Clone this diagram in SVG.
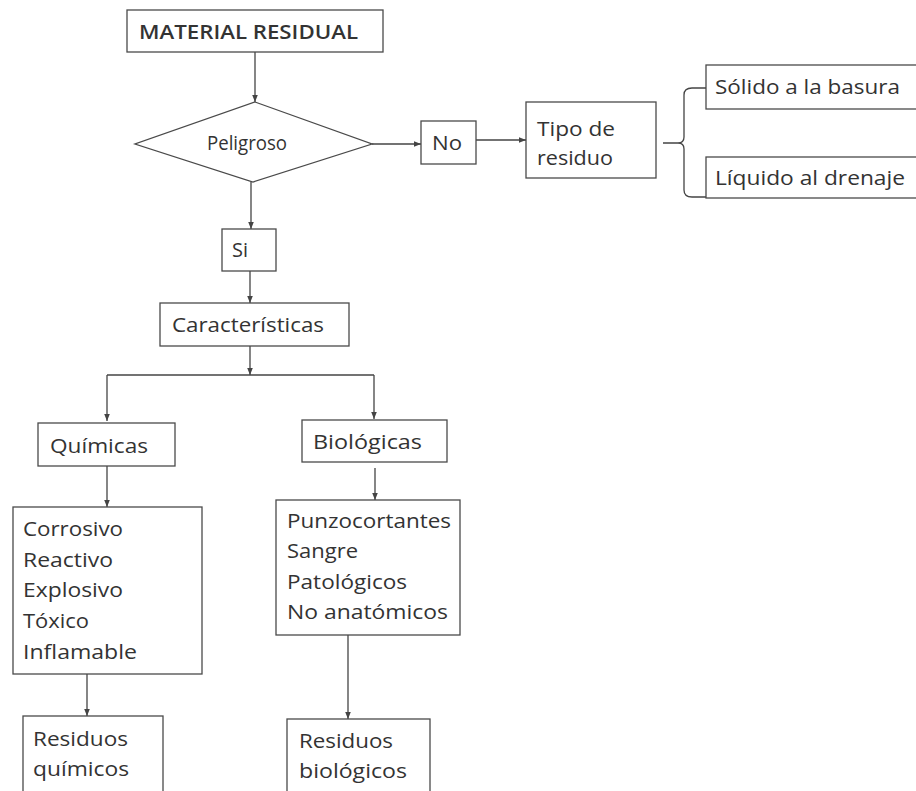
<svg xmlns="http://www.w3.org/2000/svg" width="916" height="791" viewBox="0 0 916 791">
<style>
.box{fill:#fff;stroke:#4a4a4a;stroke-width:1.3}
.t{font-family:"Open Sans","Noto Sans","Liberation Sans",sans-serif;font-size:20px;fill:#333}
.c{fill:none;stroke:#444;stroke-width:1.3}
</style>
<defs>
<marker id="ah" viewBox="0 0 8 8" refX="8" refY="4" markerWidth="7" markerHeight="7" markerUnits="userSpaceOnUse" orient="auto">
<path d="M0,0.8 L8,4 L0,7.2 Z" fill="#444"/>
</marker>
</defs>
<rect width="916" height="791" fill="#fff"/>
<g id="connectors">
<path class="c" d="M255,52 V102" marker-end="url(#ah)"/>
<path class="c" d="M372,144 H421" marker-end="url(#ah)"/>
<path class="c" d="M476,140 H526" marker-end="url(#ah)"/>
<path class="c" d="M251,182 V229" marker-end="url(#ah)"/>
<path class="c" d="M250,271 V303" marker-end="url(#ah)"/>
<path class="c" d="M250,346 V375" marker-end="url(#ah)"/>
<path class="c" d="M107,375 H374"/>
<path class="c" d="M107,375 V421" marker-end="url(#ah)"/>
<path class="c" d="M374,375 V419" marker-end="url(#ah)"/>
<path class="c" d="M107,466 V507" marker-end="url(#ah)"/>
<path class="c" d="M375,468 V500" marker-end="url(#ah)"/>
<path class="c" d="M87,674 V716" marker-end="url(#ah)"/>
<path class="c" d="M348,635 V719" marker-end="url(#ah)"/>
<path class="c" d="M663,143 L678,143 Q684,143 684,137 L684,95 Q684,88 692,88 L706,88 M678,143 Q684,143 684,149 L684,190 Q684,197 692,197 L706,197"/>
</g>
<g id="material-residual">
<rect class="box" x="127" y="10" width="256" height="42"/>
<text class="t" x="139" y="39" font-size="19" font-weight="600" textLength="219" lengthAdjust="spacingAndGlyphs">MATERIAL RESIDUAL</text>
</g>
<g id="peligroso">
<polygon class="box" points="255,102 372,144 253,182 135,144"/>
<text class="t" x="207" y="150" textLength="80" lengthAdjust="spacingAndGlyphs">Peligroso</text>
</g>
<g id="no">
<rect class="box" x="421" y="121" width="55" height="43"/>
<text class="t" x="432" y="150" textLength="30" lengthAdjust="spacingAndGlyphs">No</text>
</g>
<g id="tipo-residuo">
<rect class="box" x="526" y="102" width="130" height="76"/>
<text class="t" x="537" y="136" textLength="78" lengthAdjust="spacingAndGlyphs">Tipo de</text>
<text class="t" x="537" y="165" textLength="76" lengthAdjust="spacingAndGlyphs">residuo</text>
</g>
<g id="solido">
<rect class="box" x="706" y="65" width="220" height="44"/>
<text class="t" x="715" y="94" textLength="185" lengthAdjust="spacingAndGlyphs">Sólido a la basura</text>
</g>
<g id="liquido">
<rect class="box" x="706" y="157" width="220" height="41"/>
<text class="t" x="715" y="185" textLength="190" lengthAdjust="spacingAndGlyphs">Líquido al drenaje</text>
</g>
<g id="si">
<rect class="box" x="222" y="229" width="54" height="42"/>
<text class="t" x="232" y="257" textLength="16" lengthAdjust="spacingAndGlyphs">Si</text>
</g>
<g id="caracteristicas">
<rect class="box" x="160" y="303" width="189" height="43"/>
<text class="t" x="172" y="332" textLength="152" lengthAdjust="spacingAndGlyphs">Características</text>
</g>
<g id="quimicas">
<rect class="box" x="38" y="423" width="137" height="43"/>
<text class="t" x="50" y="453" textLength="98" lengthAdjust="spacingAndGlyphs">Químicas</text>
</g>
<g id="biologicas">
<rect class="box" x="302" y="420" width="145" height="42"/>
<text class="t" x="313" y="449" textLength="109" lengthAdjust="spacingAndGlyphs">Biológicas</text>
</g>
<g id="lista-quimicas">
<rect class="box" x="13" y="507" width="189" height="167"/>
<text class="t" x="23" y="536" textLength="100" lengthAdjust="spacingAndGlyphs">Corrosivo</text>
<text class="t" x="23" y="567" textLength="90" lengthAdjust="spacingAndGlyphs">Reactivo</text>
<text class="t" x="23" y="597" textLength="100" lengthAdjust="spacingAndGlyphs">Explosivo</text>
<text class="t" x="23" y="628" textLength="66" lengthAdjust="spacingAndGlyphs">Tóxico</text>
<text class="t" x="23" y="659" textLength="114" lengthAdjust="spacingAndGlyphs">Inflamable</text>
</g>
<g id="lista-biologicas">
<rect class="box" x="276" y="500" width="184" height="135"/>
<text class="t" x="287" y="528" textLength="164" lengthAdjust="spacingAndGlyphs">Punzocortantes</text>
<text class="t" x="287" y="558" textLength="71" lengthAdjust="spacingAndGlyphs">Sangre</text>
<text class="t" x="287" y="589" textLength="120" lengthAdjust="spacingAndGlyphs">Patológicos</text>
<text class="t" x="287" y="619" textLength="161" lengthAdjust="spacingAndGlyphs">No anatómicos</text>
</g>
<g id="residuos-quimicos">
<rect class="box" x="23" y="716" width="140" height="90"/>
<text class="t" x="33" y="746" textLength="95" lengthAdjust="spacingAndGlyphs">Residuos</text>
<text class="t" x="33" y="776" textLength="96" lengthAdjust="spacingAndGlyphs">químicos</text>
</g>
<g id="residuos-biologicos">
<rect class="box" x="287" y="719" width="143" height="90"/>
<text class="t" x="299" y="748" textLength="94" lengthAdjust="spacingAndGlyphs">Residuos</text>
<text class="t" x="299" y="778" textLength="108" lengthAdjust="spacingAndGlyphs">biológicos</text>
</g>
</svg>
